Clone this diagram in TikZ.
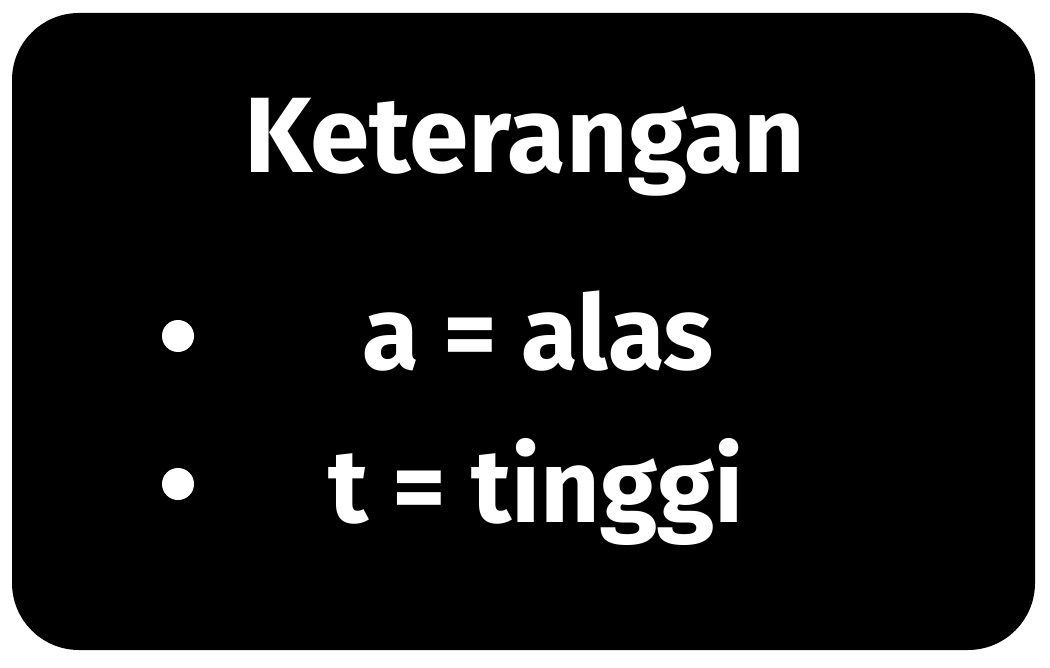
\documentclass[tikz,border=0pt]{standalone}
\usepackage{fontspec}
\setmainfont{Fira Sans}
\usetikzlibrary{positioning}

\begin{document}
\begin{tikzpicture}[x=0.02cm,y=-0.02cm,
txt/.style={text=white,font=\fontsize{59}{70}\selectfont\bfseries,inner sep=0pt,anchor=base},
dot/.style={circle,fill=white,inner sep=0pt,minimum size=32*0.02cm}]
 \useasboundingbox (0,0) rectangle (1050,668);
 \fill[black,rounded corners=67*0.02cm] (12,13) rectangle (1035,650);
 \node[txt,font=\fontsize{61}{72}\selectfont\bfseries] (title) at (525,173) {Keterangan};
 \node[txt] (alas) at (538,370) {a = alas};
 \node[txt] (tinggi) at (536,522) {t = tinggi};
 \node[dot] (b1) at (178,336) {};
 \node[dot] (b2) at (178,484) {};
\end{tikzpicture}
\end{document}
